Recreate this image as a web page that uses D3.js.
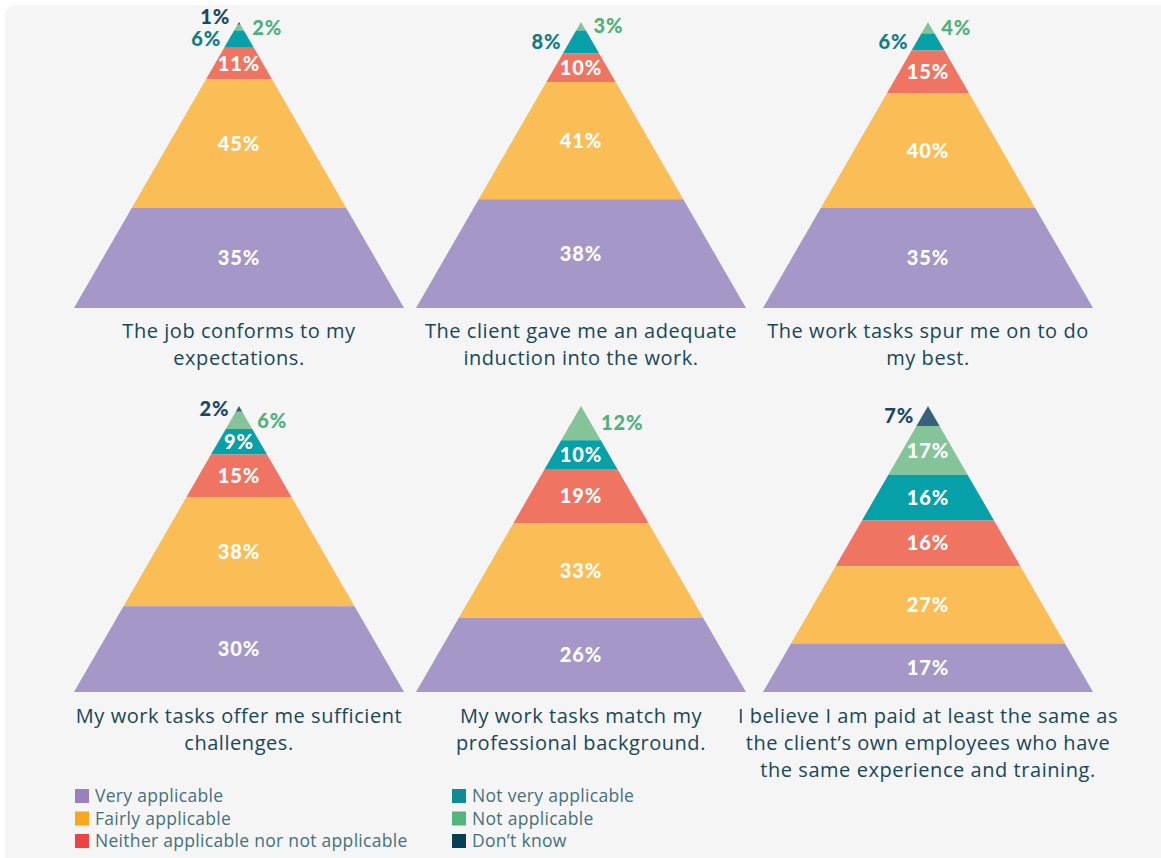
<!DOCTYPE html>
<html><head><meta charset="utf-8">
<script src="https://cdn.jsdelivr.net/npm/d3@7"></script>
<style>
html,body{margin:0;padding:0;background:#fff;}
svg{display:block;}
</style></head>
<body>
<svg id="chart" width="1161" height="858"></svg>
<script>
// ---------- data ----------
const categories = ["Very applicable","Fairly applicable","Neither applicable nor not applicable","Not very applicable","Not applicable","Don’t know"];
const q1 = [35,45,11,6,2,1];
const q2 = [38,41,10,8,3,0];
const q3 = [35,40,15,6,4,0];
const q4 = [30,38,15,9,6,2];
const q5 = [26,33,19,10,12,0];
const q6 = [17,27,16,16,17,7];
const captions = [
  ["The job conforms to my","expectations."],
  ["The client gave me an adequate","induction into the work."],
  ["The work tasks spur me on to do","my best."],
  ["My work tasks offer me sufficient","challenges."],
  ["My work tasks match my","professional background."],
  ["I believe I am paid at least the same as","the client’s own employees who have","the same experience and training."]
];
const series = [q1,q2,q3,q4,q5,q6];

// ---------- styles ----------
const fillColors = ["#a597c8","#fbbd56","#f07462","#06a0a8","#84c498","#36607c"];
const legendColors = ["#9b80c0","#f9a71e","#ea4541","#0d8c95","#53b47d","#073f55"];
const outColors = ["#a597c8","#f9a71e","#f07462","#137b86","#4fb07a","#1a4860"];
const outSide = [0,0,0,-1,1,-1];

const svg = d3.select("#chart");
svg.append("rect").attr("x",5).attr("y",5).attr("width",1180).attr("height",880).attr("rx",11).attr("fill","#f5f5f5");

const centers = [239,581,928];
const rows = [{apex:22, base:308, cap:338},{apex:406, base:692, cap:723}];
const halfBase = 165;
const numFont = "Lato, 'Open Sans', sans-serif";
const txtFont = "'Open Sans', sans-serif";

series.forEach((vals,i)=>{
  const cx = centers[i%3], row = rows[Math.floor(i/3)];
  const g = svg.append("g");
  const y = d3.scaleLinear().domain([0,100]).range([row.apex,row.base]);
  const hw = d3.scaleLinear().domain([0,100]).range([0,halfBase]);
  const segs = [];
  let acc = 0;
  for (let k = vals.length-1; k>=0; k--){
    if (!vals[k]) continue;
    segs.push({k, v:vals[k], t:acc, b:acc+vals[k]});
    acc += vals[k];
  }
  const isTop = (s)=> s.t===0;
  segs.forEach(s=>{
    const pts = [[cx-hw(s.t),y(s.t)],[cx+hw(s.t),y(s.t)],[cx+hw(s.b),y(s.b)],[cx-hw(s.b),y(s.b)]];
    g.append("path").attr("d","M"+pts.map(p=>p.join(",")).join("L")+"Z").attr("fill",fillColors[s.k]);
  });
  let lastLeftY = null;
  segs.slice().reverse().forEach(s=>{
    const mid = (s.t+s.b)/2;
    const outside = isTop(s) || s.v < 9;
    if (!outside){
      g.append("text").attr("x",cx).attr("y",y(mid)).attr("dy","0.36em")
        .attr("text-anchor","middle").attr("fill","#fff")
        .attr("font-family",numFont).attr("font-weight",900).attr("font-size",20)
        .attr("letter-spacing",0.9).text(s.v+"%");
    } else {
      const side = outSide[s.k];
      let ly = y(mid);
      if (side<0){
        if (lastLeftY!==null && lastLeftY-ly < 20) ly = lastLeftY-22;
        lastLeftY = ly;
      }
      const lx = cx + side*(hw(mid)+ (side<0?8:10));
      g.append("text").attr("x",lx).attr("y",ly).attr("dy","0.36em")
        .attr("text-anchor", side<0?"end":"start").attr("fill",outColors[s.k])
        .attr("font-family",numFont).attr("font-weight",900).attr("font-size",20)
        .attr("letter-spacing",0.9).text(s.v+"%");
    }
  });
  const cap = g.append("text").attr("text-anchor","middle").attr("fill","#17475a")
    .attr("font-family",txtFont).attr("font-size",20).attr("letter-spacing",0.55);
  captions[i].forEach((line,j)=>{
    cap.append("tspan").attr("x",cx).attr("y",row.cap + j*27).text(line);
  });
});

const legCols = [75,452];
categories.forEach((c,i)=>{
  const x = legCols[Math.floor(i/3)], yy = 796 + (i%3)*22.5;
  svg.append("rect").attr("x",x).attr("y",yy-7).attr("width",14).attr("height",14).attr("fill",legendColors[i]);
  svg.append("text").attr("x",x+20).attr("y",yy).attr("dy","0.35em").attr("fill","#44707f")
    .attr("font-family",txtFont).attr("font-size",17.5).attr("letter-spacing",0.3).text(c);
});
</script>
</body></html>
